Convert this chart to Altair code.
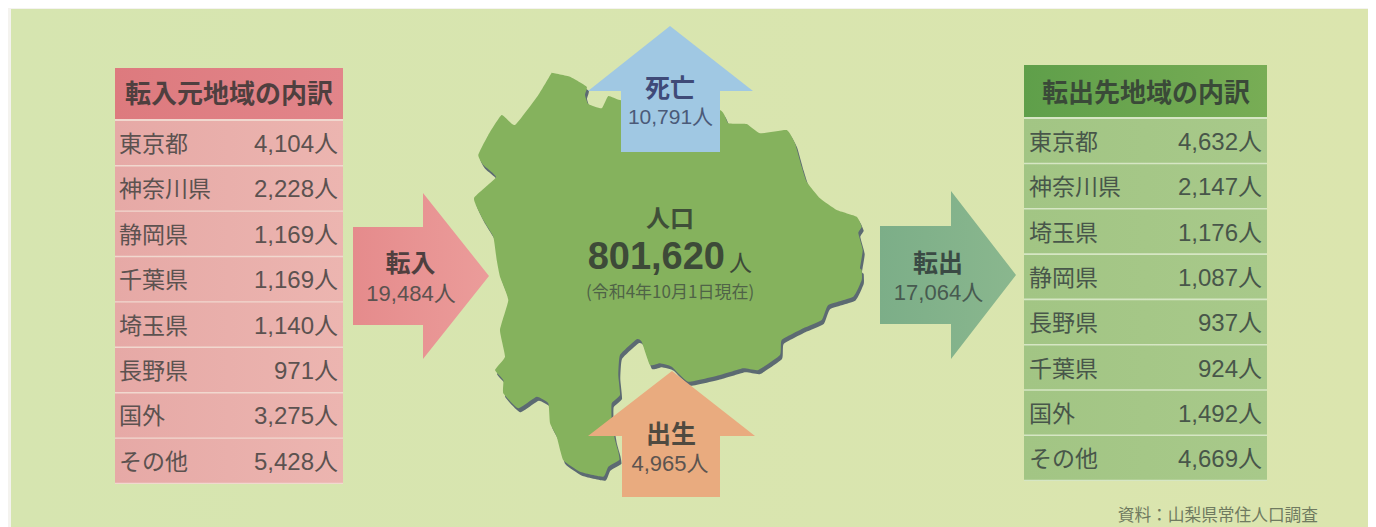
import altair as alt
import pandas as pd

# Outer page / panel (image pixel space)
panel_x = [11, 1368]
panel_y = [9, 527]

# Tables
in_regions = ["東京都", "神奈川県", "静岡県", "千葉県", "埼玉県", "長野県", "国外", "その他"]
in_values = ["4,104人", "2,228人", "1,169人", "1,169人", "1,140人", "971人", "3,275人", "5,428人"]
out_regions = ["東京都", "神奈川県", "埼玉県", "静岡県", "長野県", "千葉県", "国外", "その他"]
out_values = ["4,632人", "2,147人", "1,176人", "1,087人", "937人", "924人", "1,492人", "4,669人"]
in_row_tops = [121, 166.4, 211.8, 257.2, 302.6, 348, 393.4, 438.8]
out_row_tops = [119, 164.3, 209.6, 254.9, 300.2, 345.5, 390.8, 436.1]

# Arrows (outline vertices)
arrow_in_x = [353, 423, 423, 489, 423, 423, 353]
arrow_in_y = [227, 227, 193, 276, 359, 325, 325]
arrow_out_x = [880, 951, 951, 1016, 951, 951, 880]
arrow_out_y = [226, 226, 191, 275, 359, 324, 324]
arrow_up_x = [670, 753, 720, 720, 621, 621, 588]
arrow_up_y = [26, 91, 91, 152, 152, 91, 91]
arrow_birth_x = [672, 755, 720, 720, 622, 622, 588]
arrow_birth_y = [371, 436, 436, 497, 497, 436, 436]

# Prefecture outline
map_x = [551.7, 570, 586.7, 585, 588.3, 601.7, 608.3, 620, 660, 720, 728.3, 746.7, 760, 786.7, 795, 801.7,
         806.7, 820, 836.7, 856.7, 861.7, 858.3, 862.7, 860, 861.7, 861.7, 853.3, 828.3, 821.7, 803.3,
         781.7, 780, 758.3, 743.3, 720, 688.3, 671.7, 660, 650, 641.7, 636.7, 620, 618.3, 620, 611.7,
         611.7, 615, 618.3, 619.3, 608.3, 603.3, 580, 563.3, 556.7, 550, 548.3, 536.7, 518.3, 503.3,
         503.3, 495, 505, 500, 508.3, 500, 496.7, 493.3, 483.3, 474, 496, 483.3, 478.3, 488.3, 501.7,
         515, 538.3, 551.7]
map_y = [72.7, 76.7, 86.7, 95, 104, 108.3, 96, 100, 105, 110, 123.3, 124, 133.3, 130, 143.3, 166.7,
         181.7, 198.3, 210, 216.7, 226.7, 233, 250, 268, 270, 280, 296.7, 305, 320, 328.3,
         340, 355, 370, 368.3, 375, 381.7, 366.7, 363.3, 365, 341.7, 339.3, 355, 375, 395, 403.3,
         420, 440, 451.7, 460, 466.7, 476.7, 471.7, 460, 436.7, 423, 403.3, 396.7, 408.3, 393.3,
         380, 370, 356.7, 330, 300, 276.7, 260, 236.7, 220, 198.3, 177.3, 165, 155, 135, 115,
         125, 95, 72.7]
shadow_dx = [2.0]
shadow_dy = [4.0]

SANS = '"Liberation Sans","Noto Sans CJK JP"'
JP = '"Noto Sans CJK JP"'

xs = alt.Scale(domain=[8, 1368], nice=False, zero=False)
ys = alt.Scale(domain=[527, 8], nice=False, zero=False)
X = lambda f="x": alt.X(f"{f}:Q", scale=xs, axis=None)
Y = lambda f="y": alt.Y(f"{f}:Q", scale=ys, axis=None)


def grad(c1, c2):
    return alt.Gradient(gradient="linear", x1=0, x2=1, y1=0, y2=0,
                        stops=[alt.GradientStop(color=c1, offset=0), alt.GradientStop(color=c2, offset=1)])


def box(x0, x1, y0, y1, fill):
    df = pd.DataFrame({"x": x0 if isinstance(x0, list) else [x0], "x2": x1 if isinstance(x1, list) else [x1],
                       "y": y0 if isinstance(y0, list) else [y0], "y2": y1 if isinstance(y1, list) else [y1]})
    return alt.Chart(df).mark_rect(color=fill).encode(
        x=X(), x2="x2:Q", y=Y(), y2="y2:Q")


def poly(xv, yv, fill, interp="linear"):
    df = pd.DataFrame({"x": xv + xv[:1], "y": yv + yv[:1], "i": range(len(xv) + 1)})
    kw = {"tension": 0.6} if interp != "linear" else {}
    return alt.Chart(df).mark_line(fill=fill, strokeWidth=0, interpolate=interp, **kw).encode(
        x=X(), y=Y(), order="i:Q")


def text(xv, yv, labels, size, color, font=SANS, weight="normal", align="center"):
    df = pd.DataFrame({"x": xv, "y": yv, "t": labels})
    return alt.Chart(df).mark_text(fontSize=size, color=color, font=font, fontWeight=weight,
                                   align=align, baseline="middle").encode(
        x=X(), y=Y(), text="t:N")


layers = []
# Page and panel
layers.append(box(8, 1368, 8, 527, "#f4f3ef"))
layers.append(box(panel_x[0], panel_x[1], panel_y[0], panel_y[1], grad("#d6e5b0", "#dbe5ae")))

# Left table
layers.append(box(115, 343, 68, 484, "#f1d8cf"))
layers.append(box(115, 343, 68, 119, grad("#dd7a7e", "#e2858a")))
layers.append(box([115] * 8, [343] * 8, in_row_tops, [t + 44 for t in in_row_tops], grad("#e6a9a6", "#ecb5b0")))
layers.append(text([229], [95], ["転入元地域の内訳"], 26, "#4f3f3f", JP, "bold"))
layers.append(text([119] * 8, [t + 24 for t in in_row_tops], in_regions, 23, "#5c5250", JP, align="left"))
layers.append(text([338] * 8, [t + 24 for t in in_row_tops], in_values, 24, "#5c5250", align="right"))

# Right table
layers.append(box(1024, 1267, 65, 481, "#d6e6c4"))
layers.append(box(1024, 1267, 65, 117, grad("#5f9f4a", "#78ad55")))
layers.append(box([1024] * 8, [1267] * 8, out_row_tops, [t + 43.7 for t in out_row_tops], grad("#a2c584", "#a8c98a")))
layers.append(text([1146], [94], ["転出先地域の内訳"], 26, "#3a4a38", JP, "bold"))
layers.append(text([1029] * 8, [t + 24 for t in out_row_tops], out_regions, 23, "#48564a", JP, align="left"))
layers.append(text([1262] * 8, [t + 24 for t in out_row_tops], out_values, 24, "#48564a", align="right"))

# Map
layers.append(poly([v + shadow_dx[0] for v in map_x], [v + shadow_dy[0] for v in map_y], "#5c6a72", "cardinal"))
layers.append(poly(map_x, map_y, "#85b25d", "cardinal"))

# Arrows
layers.append(poly(arrow_in_x, arrow_in_y, grad("#e58b8c", "#eb9c9a")))
layers.append(poly(arrow_out_x, arrow_out_y, grad("#7cae88", "#8ab78e")))
layers.append(poly(arrow_up_x, arrow_up_y, "#a0c8e3"))
layers.append(poly(arrow_birth_x, arrow_birth_y, "#e9ab7f"))

# Arrow labels
layers.append(text([410.5], [264], ["転入"], 25, "#4f3f3f", JP, "bold"))
layers.append(text([411], [294], ["19,484人"], 22, "#5c5250"))
layers.append(text([938], [263.5], ["転出"], 25, "#3a4a44", JP, "bold"))
layers.append(text([938.5], [293], ["17,064人"], 22, "#475a50"))
layers.append(text([670], [89], ["死亡"], 25, "#3f4a78", JP, "bold"))
layers.append(text([670.5], [118], ["10,791人"], 21, "#4b5a78"))
layers.append(text([671], [435], ["出生"], 25, "#4f4a40", JP, "bold"))
layers.append(text([670], [464], ["4,965人"], 22, "#5c5450"))

# Centre
layers.append(text([670], [220], ["人口"], 24, "#3f4f38", JP, "bold"))
layers.append(text([725], [258], ["801,620"], 38, "#3d4a38", SANS, "bold", align="right"))
layers.append(text([729], [264], ["人"], 23, "#3d4a38", JP, align="left"))
layers.append(text([670], [293], ["(令和4年10月1日現在)"], 17, "#4f6347", JP))

# Source
layers.append(text([1318], [516], ["資料：山梨県常住人口調査"], 16.7, "#6f7a60", JP, align="right"))

chart = alt.layer(*layers).properties(
    width=1360, height=519, padding=0, background="#ffffff",
    autosize=alt.AutoSizeParams(type="none"),
).configure_view(stroke=None)

chart.save("out.html", embed_options={"renderer": "svg", "actions": False})
